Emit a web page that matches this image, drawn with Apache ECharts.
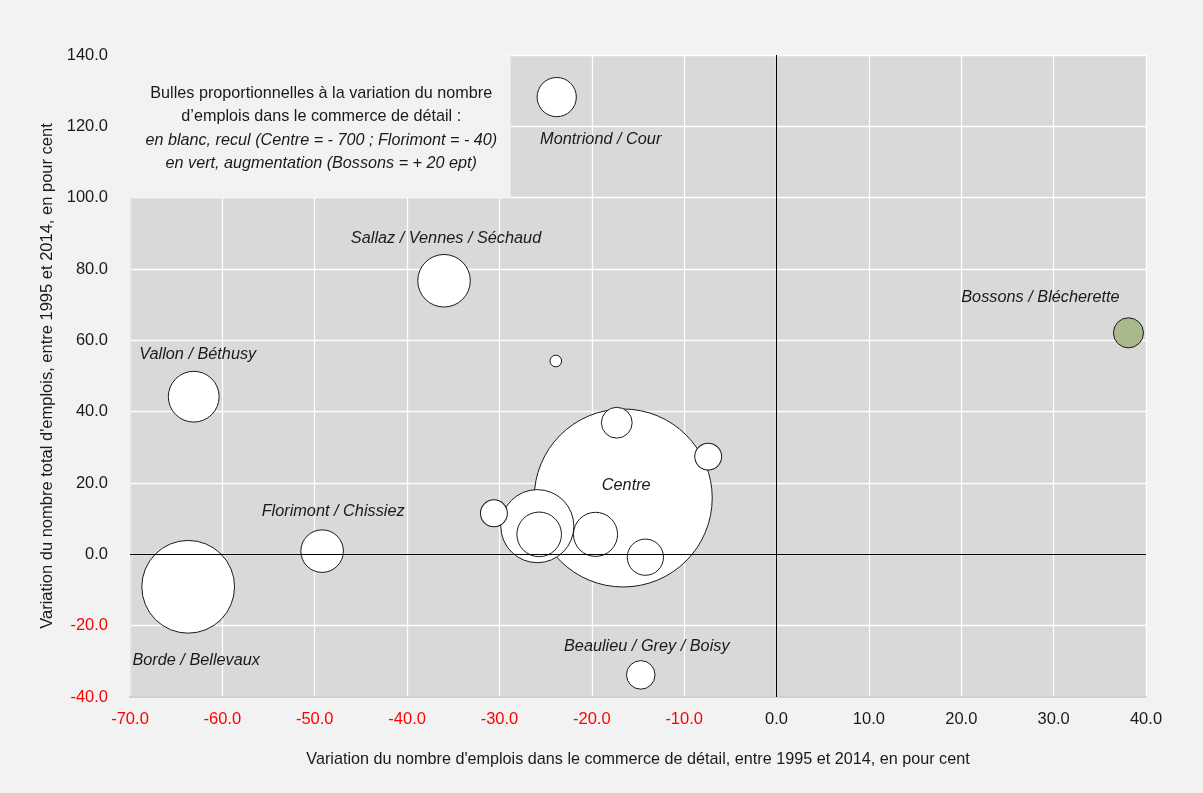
<!DOCTYPE html>
<html>
<head>
<meta charset="utf-8">
<script src="https://cdn.jsdelivr.net/npm/echarts@6/dist/echarts.min.js"></script>
<style>
html,body{margin:0;padding:0;background:#f2f2f2;}
#chart{width:1203px;height:793px;}
</style>
</head>
<body>
<div id="chart"></div>
<script>
// ---- Data ----
const zoneNames = ['Centre', '', 'Borde / Bellevaux', 'Sallaz / Vennes / Séchaud', 'Vallon / Béthusy', '', '', 'Florimont / Chissiez', 'Montriond / Cour', '', '', 'Bossons / Blécherette', 'Beaulieu / Grey / Boisy', '', '', ''];
const retailChange = [-16.6, -25.9, -63.7, -36.0, -63.1, -25.7, -19.6, -49.2, -23.8, -14.2, -17.3, 38.1, -14.7, -7.4, -30.6, -23.9];
const totalChange = [15.8, 7.9, -9.1, 76.7, 44.2, 5.6, 5.6, 0.9, 128.2, -0.8, 36.9, 62.1, -33.8, 27.4, 11.5, 54.2];
const retailJobsDelta = [-700, -118, -190, -61, -57, -44, -43, -40, -34, -29, -21, 20, -18, -16, -16, -3];
const xTicks = [-70, -60, -50, -40, -30, -20, -10, 0, 10, 20, 30, 40];
const yTicks = [-40, -20, 0, 20, 40, 60, 80, 100, 120, 140];
const noteLines = [
  'Bulles proportionnelles à la variation du nombre',
  'd\u2019emplois dans le commerce de détail :',
  'en blanc, recul (Centre = - 700 ; Florimont = - 40)',
  'en vert, augmentation (Bossons = + 20 ept)'
];
const xTitle = "Variation du nombre d'emplois dans le commerce de détail, entre 1995 et 2014, en pour cent";
const yTitle = "Variation du nombre total d'emplois, entre 1995 et 2014, en pour cent";

// ---- Presentation ----
const FONT = "'Liberation Sans Narrow', 'Arial Narrow', 'Liberation Sans', Arial, sans-serif";
const labelOffsets = {
  'Montriond / Cour': [44, 42],
  'Sallaz / Vennes / Séchaud': [2, -42],
  'Vallon / Béthusy': [4, -42],
  'Florimont / Chissiez': [11, -40],
  'Borde / Bellevaux': [8, 74],
  'Centre': [3, -13],
  'Beaulieu / Grey / Boisy': [6, -28],
  'Bossons / Blécherette': [-88, -35]
};
const K = 3.364; // px per sqrt(job)
const sizeOf = v => 2 * K * Math.sqrt(Math.abs(v));

const data = retailChange.map((x, i) => {
  const name = zoneNames[i];
  const up = retailJobsDelta[i] > 0;
  return {
    name: name,
    value: [x, totalChange[i], retailJobsDelta[i]],
    symbolSize: sizeOf(retailJobsDelta[i]),
    itemStyle: { color: up ? '#aab98b' : '#ffffff', borderColor: '#1a1a1a', borderWidth: 1, opacity: 1 },
    label: name ? {
      show: true, position: 'inside', offset: labelOffsets[name] || [0, 0],
      formatter: name, fontFamily: FONT, fontStyle: 'italic', fontSize: 16.3, color: '#1a1a1a'
    } : { show: false }
  };
});

const tickColor = v => (parseFloat(v) < 0 ? '#ff0000' : '#1a1a1a');

const chart = echarts.init(document.getElementById('chart'));
const option = {
  backgroundColor: '#f2f2f2',
  animation: false,
  grid: { left: 130, right: 57, top: 55, bottom: 96, show: true, backgroundColor: '#d9d9d9', borderWidth: 0 },
  xAxis: {
    type: 'value', min: xTicks[0], max: xTicks[xTicks.length - 1], interval: 10,
    axisLine: { show: true, onZero: false, lineStyle: { color: '#d0d0d0', width: 2 } },
    axisTick: { show: false },
    splitLine: { show: true, lineStyle: { color: '#ffffff', width: 1.3 } },
    axisLabel: { margin: 14, fontFamily: FONT, fontSize: 16.5, formatter: v => v.toFixed(1), color: tickColor },
    name: xTitle, nameLocation: 'middle', nameGap: 55,
    nameTextStyle: { fontFamily: FONT, fontSize: 16.2, color: '#1a1a1a' }
  },
  yAxis: {
    type: 'value', min: yTicks[0], max: yTicks[yTicks.length - 1], interval: 20,
    axisLine: { show: true, onZero: false, lineStyle: { color: '#e6e6e6', width: 1 } },
    axisTick: { show: false },
    splitLine: { show: true, lineStyle: { color: '#ffffff', width: 1.3 } },
    axisLabel: { margin: 22, fontFamily: FONT, fontSize: 16.5, formatter: v => v.toFixed(1), color: tickColor },
    name: yTitle, nameLocation: 'middle', nameGap: 60, nameRotate: 90,
    nameTextStyle: { fontFamily: FONT, fontSize: 16.5, color: '#1a1a1a' }
  },
  series: [{
    type: 'scatter',
    data: data,
    z: 3,
    markLine: {
      silent: true, symbol: 'none', animation: false,
      label: { show: false },
      lineStyle: { color: '#000000', width: 1, type: 'solid' },
      data: [{ xAxis: 0 }, { yAxis: 0 }]
    }
  }]
};
chart.setOption(option);

// annotation box in data space
const p1 = chart.convertToPixel({ gridIndex: 0 }, [-70, 140]);
const p2 = chart.convertToPixel({ gridIndex: 0 }, [-28.8, 100]);
chart.setOption({
  graphic: [
    { type: 'rect', z: 1, shape: { x: p1[0], y: p1[1], width: p2[0] - p1[0], height: p2[1] - p1[1] }, style: { fill: '#f2f2f2' } },
    {
      type: 'text', z: 2, x: (p1[0] + p2[0]) / 2 + 1, y: 94 - 11.5,
      style: {
        text: '{n|' + noteLines[0] + '}\n{n|' + noteLines[1] + '}\n{i|' + noteLines[2] + '}\n{i|' + noteLines[3] + '}',
        align: 'center', verticalAlign: 'top', fill: '#1a1a1a',
        rich: {
          n: { fontFamily: FONT, fontSize: 16.2, lineHeight: 23, fill: '#1a1a1a', align: 'center' },
          i: { fontFamily: FONT, fontSize: 16.2, fontStyle: 'italic', lineHeight: 23, fill: '#1a1a1a', align: 'center' }
        }
      }
    }
  ]
});
</script>
</body>
</html>
